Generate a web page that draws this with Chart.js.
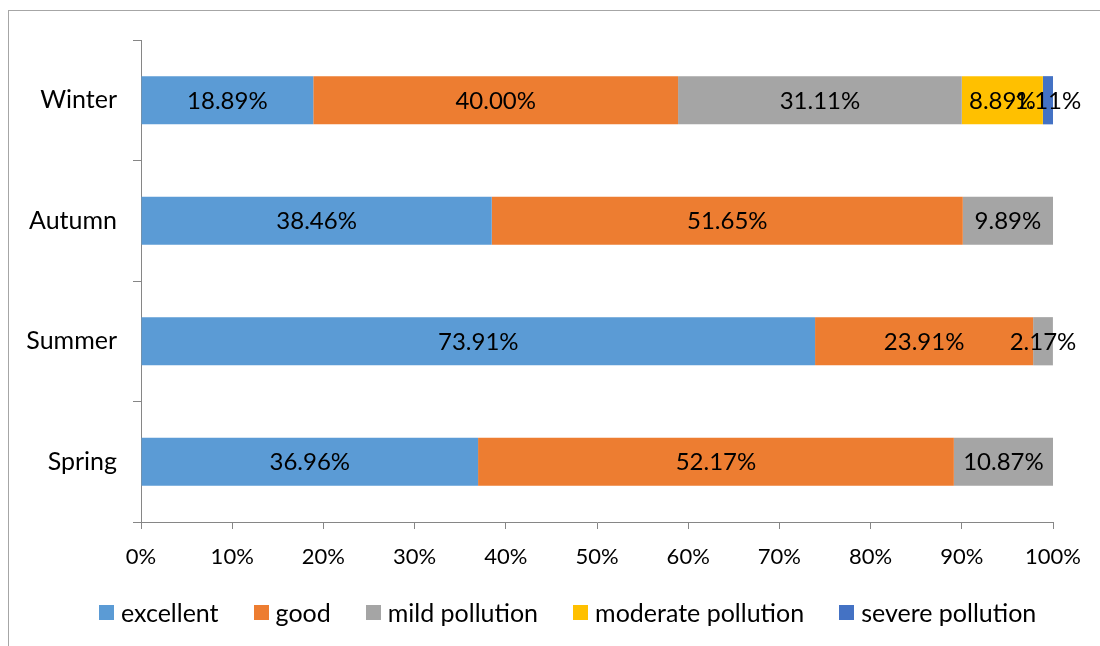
<!DOCTYPE html>
<html>
<head>
<meta charset="utf-8">
<script src="https://cdn.jsdelivr.net/npm/chart.js@4/dist/chart.umd.min.js"></script>
<style>
  html, body { margin: 0; padding: 0; background: #fff; }
  #wrap { position: relative; width: 1100px; height: 646px; overflow: hidden; }
  #frame { position: absolute; left: 8px; top: 10px; width: 1200px; height: 700px;
           border-left: 1px solid #a6a6a6; border-top: 1px solid #a6a6a6; }
  canvas { position: absolute; left: 0; top: 0; }
  #legend { position: absolute; left: 99px; top: 597px; height: 30px; display: flex;
            align-items: center; font-family: Lato, "Open Sans", sans-serif; font-size: 25px;
            color: #000; white-space: nowrap; }
  .item { display: flex; align-items: center; margin-right: 35px; }
  .box { width: 15px; height: 15px; margin-right: 7px; }
</style>
</head>
<body>
<div id="wrap">
  <div id="frame"></div>
  <canvas id="chart" width="1100" height="646"></canvas>
  <div id="legend"></div>
</div>
<script>
// Share of days per air-quality grade, by season (percent)
const seasons = ['Winter', 'Autumn', 'Summer', 'Spring'];
const excellent = [18.89, 38.46, 73.91, 36.96];
const good = [40.00, 51.65, 23.91, 52.17];
const mildPollution = [31.11, 9.89, 2.17, 10.87];
const moderatePollution = [8.89, 0, 0, 0];
const severePollution = [1.11, 0, 0, 0];
const xTicks = [0, 10, 20, 30, 40, 50, 60, 70, 80, 90, 100];

const FONT = 'Lato, "Open Sans", sans-serif';

// Writes each segment's value in the middle of its bar piece
const segmentLabels = {
  id: 'segmentLabels',
  afterDatasetsDraw(chart) {
    const ctx = chart.ctx;
    ctx.save();
    ctx.font = '24px ' + FONT;
    ctx.fillStyle = '#000';
    ctx.textAlign = 'center';
    ctx.textBaseline = 'middle';
    chart.data.datasets.forEach((ds, i) => {
      const meta = chart.getDatasetMeta(i);
      if (meta.hidden) return;
      meta.data.forEach((bar, j) => {
        const v = ds.data[j];
        if (!v) return;
        const p = bar.getProps(['x', 'y', 'base'], true);
        ctx.fillText(v.toFixed(2) + '%', (p.x + p.base) / 2, p.y + 1);
      });
    });
    ctx.restore();
  }
};

const mk = (label, data, color) => ({
  label, data, backgroundColor: color, borderWidth: 0,
  barPercentage: 0.8, categoryPercentage: 0.5
});

const chart = new Chart(document.getElementById('chart'), {
  type: 'bar',
  data: {
    labels: seasons,
    datasets: [
      mk('excellent', excellent, '#5b9bd5'),
      mk('good', good, '#ed7d31'),
      mk('mild pollution', mildPollution, '#a5a5a5'),
      mk('moderate pollution', moderatePollution, '#ffc000'),
      mk('severe pollution', severePollution, '#4472c4')
    ]
  },
  options: {
    indexAxis: 'y',
    responsive: false,
    animation: false,
    layout: { padding: { top: 40, right: 47, left: 0, bottom: 62 } },
    scales: {
      x: {
        stacked: true, min: 0, max: 100,
        afterBuildTicks(scale) { scale.ticks = xTicks.map(v => ({ value: v })); },
        afterFit(scale) { scale.height = 62; },
        grid: { drawOnChartArea: false, drawTicks: true, tickLength: 7, color: '#868686' },
        border: { display: true, color: '#868686', width: 1 },
        ticks: { padding: 15, color: '#000', font: { family: FONT, size: 22 },
                 callback: v => v + '%', maxRotation: 0 }
      },
      y: {
        stacked: true,
        afterFit(scale) { scale.width = 141; },
        grid: { offset: true, drawOnChartArea: false, drawTicks: true, tickLength: 8, color: '#868686' },
        border: { display: true, color: '#868686', width: 1 },
        ticks: { padding: 16, color: '#000', font: { family: FONT, size: 25 } }
      }
    },
    plugins: {
      tooltip: { enabled: false },
      legend: { display: false }
    }
  },
  plugins: [segmentLabels]
});

// Legend row built from the chart's datasets
const legendEl = document.getElementById('legend');
chart.data.datasets.forEach(ds => {
  const item = document.createElement('div');
  item.className = 'item';
  const box = document.createElement('div');
  box.className = 'box';
  box.style.background = ds.backgroundColor;
  const txt = document.createElement('span');
  txt.textContent = ds.label;
  item.appendChild(box);
  item.appendChild(txt);
  legendEl.appendChild(item);
});
</script>
</body>
</html>
